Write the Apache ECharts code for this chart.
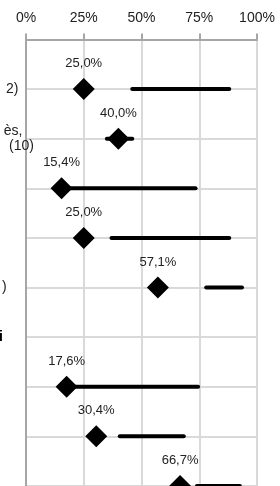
<!DOCTYPE html>
<html>
<head>
<meta charset="utf-8">
<script src="https://cdn.jsdelivr.net/npm/echarts@6/dist/echarts.min.js"></script>
<style>
  html, body { margin: 0; padding: 0; background: #fff; }
  #chart { width: 280px; height: 486px; }
</style>
</head>
<body>
<div id="chart"></div>
<script>
// rows on the y axis (row 6 is a heading without marks)
const rowLabels = ['', '2)    ', 'ès,   \n(10)', '', '', ')       ', '{b|i}        ', '', '', '', '']
const rows = [1, 2, 3, 4, 5, 7, 8, 9]
const shares = [25.0, 40.0, 15.4, 25.0, 57.1, 17.6, 30.4, 66.7]
const rangeLow = [46, 35, 15.4, 37, 78, 17.6, 40.6, 74]
const rangeHigh = [88, 46, 73.4, 88, 93.5, 74.5, 68.3, 92.6]
const xTicks = [0, 25, 50, 75, 100]

const font = 'Liberation Sans'
const chart = echarts.init(document.getElementById('chart'), null, { renderer: 'canvas' })

const option = {
  animation: false,
  backgroundColor: '#fff',
  grid: { left: 26, right: 23, top: 39.5, height: 496, outerBoundsMode: 'none', containLabel: false },
  xAxis: {
    type: 'value',
    position: 'top',
    min: xTicks[0],
    max: xTicks[xTicks.length - 1],
    interval: 25,
    axisLine: { show: true, lineStyle: { color: '#a6a6a6', width: 2 } },
    axisTick: { show: true, length: 6, lineStyle: { color: '#a6a6a6', width: 2 } },
    axisLabel: {
      formatter: '{value}%',
      fontFamily: font,
      fontSize: 14,
      color: '#222',
      margin: 14
    },
    splitLine: { show: true, lineStyle: { color: '#d9d9d9', width: 2 } }
  },
  yAxis: {
    type: 'value',
    inverse: true,
    min: 0,
    max: 10,
    interval: 1,
    axisLine: { show: true, lineStyle: { color: '#a6a6a6', width: 2 } },
    axisTick: { show: false },
    axisLabel: {
      margin: -8,
      fontFamily: font,
      fontSize: 14,
      lineHeight: 15,
      color: '#222',
      formatter: (v) => rowLabels[v] || '',
      rich: { b: { fontFamily: font, fontSize: 14, fontWeight: 'bold', color: '#000' } }
    },
    splitLine: { show: true, lineStyle: { color: '#d9d9d9', width: 2 } }
  },
  series: [
    {
      type: 'custom',
      data: rows.map((r, i) => [rangeLow[i], rangeHigh[i], r]),
      renderItem: (params, api) => {
        const p1 = api.coord([api.value(0), api.value(2)])
        const p2 = api.coord([api.value(1), api.value(2)])
        return {
          type: 'line',
          shape: { x1: p1[0], y1: p1[1], x2: p2[0], y2: p2[1] },
          style: { stroke: '#000', lineWidth: 4, lineCap: 'round' }
        }
      },
      z: 2
    },
    {
      type: 'scatter',
      symbol: 'diamond',
      symbolSize: 22,
      itemStyle: { color: '#000', opacity: 1 },
      data: rows.map((r, i) => [shares[i], r]),
      label: {
        show: true,
        position: 'top',
        distance: 8,
        fontFamily: font,
        fontSize: 13,
        color: '#222',
        formatter: (p) => p.value[0].toFixed(1).replace('.', ',') + '%'
      },
      z: 3
    }
  ]
}

chart.setOption(option)
</script>
</body>
</html>
